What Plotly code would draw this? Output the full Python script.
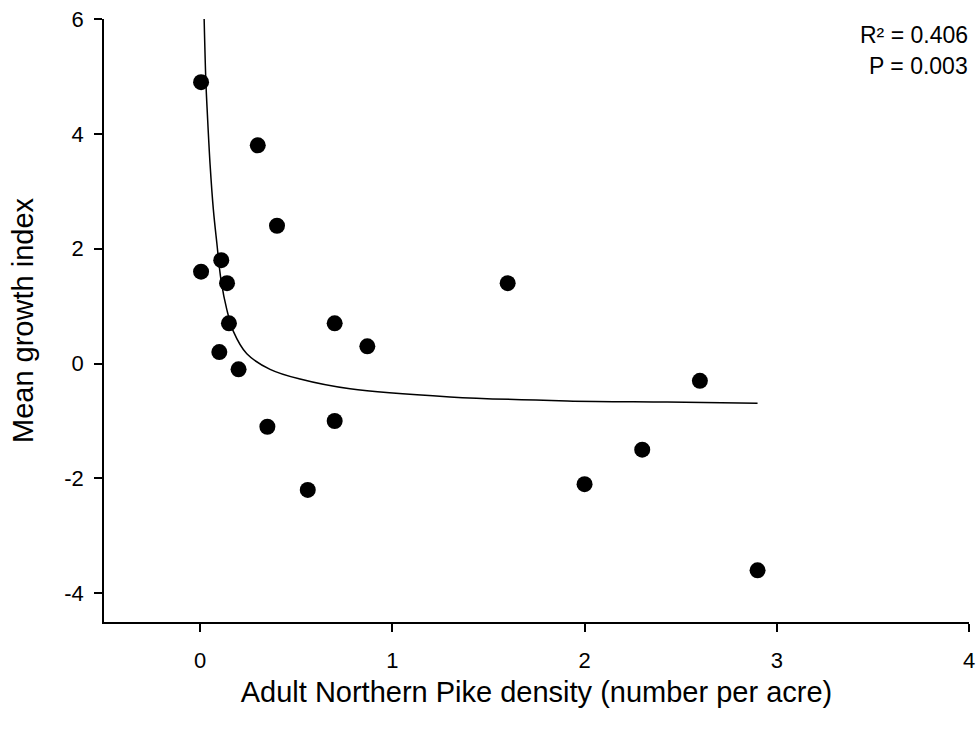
import plotly.graph_objects as go

# Observed data (Adult Northern Pike density vs mean growth index)
density = [0.005, 0.30, 0.40, 0.11, 0.005, 0.14, 0.15, 0.10, 0.20, 0.35,
           0.70, 0.87, 0.70, 0.56, 1.60, 2.00, 2.30, 2.60, 2.90]
growth = [4.9, 3.8, 2.4, 1.8, 1.6, 1.4, 0.7, 0.2, -0.1, -1.1,
          0.7, 0.3, -1.0, -2.2, 1.4, -2.1, -1.5, -0.3, -3.6]

# Fitted curve, points
fit_x = [0.021, 0.030, 0.038, 0.052, 0.069, 0.087, 0.109, 0.139, 0.173,
         0.243, 0.364, 0.52, 0.78, 1.30, 1.91, 2.43, 2.90]
fit_y = [6.0, 4.91, 4.33, 3.46, 2.68, 2.10, 1.45, 0.94, 0.56,
         0.17, -0.10, -0.27, -0.44, -0.58, -0.65, -0.67, -0.69]

x_ticks = [0, 1, 2, 3, 4]
x_labels = ["0", "1", "2", "3", "4"]
y_ticks = [-4, -2, 0, 2, 4, 6]
y_labels = ["-4", "-2", "0", "2", "4", "6"]

FONT = "Arial, Liberation Sans, Helvetica, sans-serif"

fig = go.Figure()
fig.add_trace(go.Scatter(x=fit_x, y=fit_y, mode="lines",
                         line=dict(color="black", width=1.5, shape="spline", smoothing=1.0),
                         hoverinfo="skip", showlegend=False, cliponaxis=False))
fig.add_trace(go.Scatter(x=density, y=growth, mode="markers",
                         marker=dict(color="black", size=16, line=dict(width=0)),
                         showlegend=False, cliponaxis=False))

fig.add_annotation(xref="paper", yref="paper", x=1.001, y=0.9735, xanchor="right", yanchor="middle",
                   text="R² = 0.406", showarrow=False,
                   font=dict(family=FONT, size=23, color="black"))
fig.add_annotation(xref="paper", yref="paper", x=1.001, y=0.922, xanchor="right", yanchor="middle",
                   text="P = 0.003", showarrow=False,
                   font=dict(family=FONT, size=23, color="black"))

fig.update_layout(
    width=980, height=731,
    margin=dict(l=104, r=11, t=19, b=109, autoexpand=False),
    paper_bgcolor="white", plot_bgcolor="white",
    font=dict(family=FONT, color="black"),
    xaxis=dict(range=[-0.5, 4], tickvals=x_ticks, ticktext=x_labels,
               showgrid=False, zeroline=False, automargin=False,
               showline=True, linecolor="black", linewidth=1.5,
               ticks="outside", ticklen=8, tickwidth=1.5, tickcolor="black",
               tickfont=dict(size=22, family=FONT), ticklabelstandoff=10,
               title=dict(text="Adult Northern Pike density (number per acre)",
                          font=dict(size=29, family=FONT), standoff=10)),
    yaxis=dict(range=[-4.5, 6], tickvals=y_ticks, ticktext=y_labels,
               showgrid=False, zeroline=False, automargin=False,
               showline=True, linecolor="black", linewidth=1.5,
               ticks="outside", ticklen=8, tickwidth=1.5, tickcolor="black",
               tickfont=dict(size=22, family=FONT), ticklabelstandoff=6,
               title=dict(text="Mean growth index",
                          font=dict(size=29, family=FONT), standoff=22)),
)

fig.write_html("out.html")
